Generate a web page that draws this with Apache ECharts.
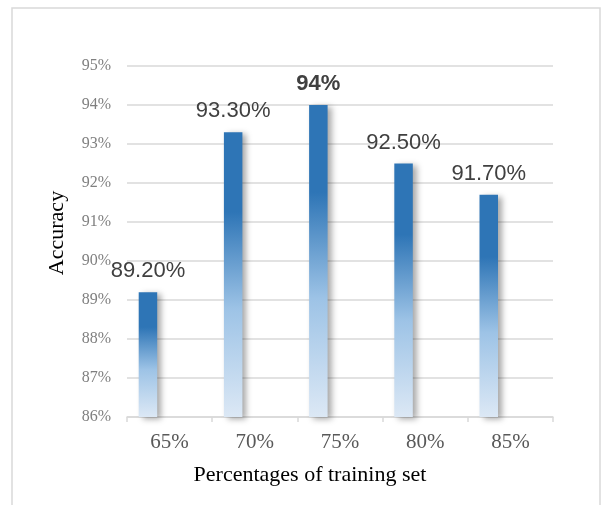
<!DOCTYPE html>
<html>
<head>
<meta charset="utf-8">
<script src="https://cdn.jsdelivr.net/npm/echarts@6/dist/echarts.min.js"></script>
<style>
  html, body { margin: 0; padding: 0; background: #fff; }
  #chart { width: 612px; height: 505px; }
</style>
</head>
<body>
<div id="chart"></div>
<script>
// Accuracy by share of data used for training
const categories = ['65%', '70%', '75%', '80%', '85%'];
const accuracy = [89.2, 93.3, 94, 92.5, 91.7];
const valueLabels = ['89.20%', '93.30%', '94%', '92.50%', '91.70%'];
const yTicks = [86, 87, 88, 89, 90, 91, 92, 93, 94, 95];

const chart = echarts.init(document.getElementById('chart'), null, { renderer: 'canvas' });

const barFill = new echarts.graphic.LinearGradient(0, 0, 0, 1, [
  { offset: 0, color: '#2E75B6' },
  { offset: 0.28, color: '#2E75B6' },
  { offset: 0.62, color: '#9DC3E6' },
  { offset: 1, color: '#DCE8F5' }
]);

chart.setOption({
  animation: false,
  backgroundColor: '#ffffff',
  grid: { left: 127, right: 59, top: 66, bottom: 88 },
  xAxis: {
    type: 'category',
    data: categories,
    axisLine: { lineStyle: { color: '#D9D9D9', width: 1.5 } },
    axisTick: { show: true, length: 5, lineStyle: { color: '#D9D9D9', width: 1.5 } },
    axisLabel: {
      fontFamily: 'Liberation Serif', fontSize: 21, color: '#595959', margin: 15
    }
  },
  yAxis: {
    type: 'value',
    min: yTicks[0],
    max: yTicks[yTicks.length - 1],
    interval: 1,
    axisLine: { show: false },
    axisTick: { show: false },
    splitLine: { lineStyle: { color: '#D9D9D9', width: 1.5 } },
    axisLabel: {
      fontFamily: 'Liberation Serif', fontSize: 16, color: '#7F7F7F', margin: 16,
      formatter: v => v + '%'
    }
  },
  series: [
    {
      type: 'bar',
      data: accuracy.map((v, i) => i === 2
        ? { value: v, label: { fontWeight: 'bold' } }
        : v),
      barWidth: 18.5,
      barGap: '134%',
      itemStyle: {
        color: barFill,
        shadowColor: 'rgba(0,0,0,0.35)',
        shadowBlur: 6,
        shadowOffsetX: 4,
        shadowOffsetY: 2
      },
      label: {
        show: true,
        position: 'top',
        distance: 10,
        fontFamily: 'Liberation Sans',
        fontSize: 22,
        color: '#404040',
        formatter: p => valueLabels[p.dataIndex]
      },
      emphasis: { disabled: true }
    },
    {
      // empty companion series keeps each bar in the left half of its slot
      type: 'bar',
      data: categories.map(() => '-'),
      barWidth: 18.5
    }
  ],
  graphic: [
    {
      type: 'rect',
      shape: { x: 12, y: 8, width: 588, height: 520 },
      style: { fill: null, stroke: '#D9D9D9', lineWidth: 1.5 },
      silent: true, z: -1
    },
    {
      type: 'text',
      x: 57, y: 233,
      rotation: Math.PI / 2,
      style: {
        text: 'Accuracy',
        font: '22px "Liberation Serif"',
        fill: '#000000',
        textAlign: 'center',
        textVerticalAlign: 'middle'
      }
    },
    {
      type: 'text',
      x: 310, y: 475,
      style: {
        text: 'Percentages of training set',
        font: '22px "Liberation Serif"',
        fill: '#000000',
        textAlign: 'center',
        textVerticalAlign: 'middle'
      }
    }
  ]
});
</script>
</body>
</html>
